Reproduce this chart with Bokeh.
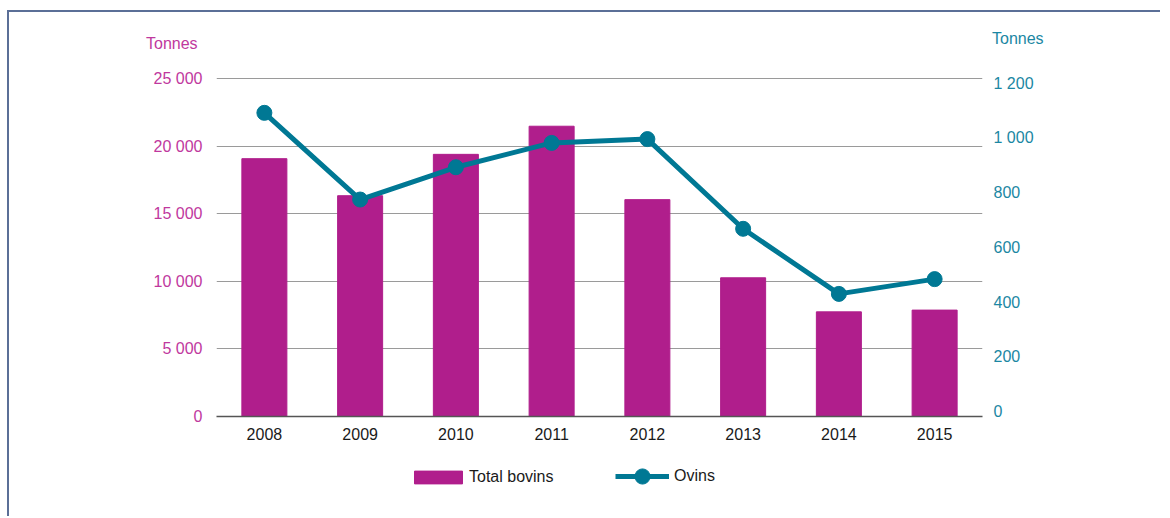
from bokeh.plotting import figure
from bokeh.models import (Range1d, FactorRange, LinearAxis, FixedTicker, Div,
                          Legend, LegendItem, ColumnDataSource)
from bokeh.layouts import column, row
from bokeh.embed import file_html
from bokeh.resources import INLINE

years = ["2008", "2009", "2010", "2011", "2012", "2013", "2014", "2015"]
bovins = [19070, 16330, 19390, 21470, 16040, 10260, 7740, 7870]
ovins = [1092, 775, 893, 982, 996, 668, 430, 484]

left_ticks = [0, 5000, 10000, 15000, 20000, 25000]
left_labels = ["0", "5 000", "10 000", "15 000", "20 000", "25 000"]
right_ticks = [0, 200, 400, 600, 800, 1000, 1200]
right_labels = ["0", "200", "400", "600", "800", "1 000", "1 200"]
unit_label = "Tonnes"
series_names = ["Total bovins", "Ovins"]

BAR = "#b01e8c"
LINE = "#007894"
LEFT_TXT = "#c0389e"
RIGHT_TXT = "#1b87a3"
FRAME = "#5b6f97"
FONT = "Liberation Sans"

src = ColumnDataSource(dict(year=years, bovins=bovins, ovins=ovins))
xr = FactorRange(*years, range_padding=0)

p = figure(width=1160, height=395, x_range=xr,
           y_range=Range1d(0, 25074), output_backend="svg", toolbar_location=None,
           min_border_left=216, min_border_right=178, min_border_top=24,
           min_border_bottom=32)
p.extra_y_ranges = {"right": Range1d(-18.3, 1221.2)}
p.outline_line_color = None
p.background_fill_color = "white"
p.border_fill_color = None

bars = p.vbar(x="year", top="bovins", width=0.47, source=src, color=BAR)
ln = p.line(x="year", y="ovins", source=src, y_range_name="right",
            line_color=LINE, line_width=5)
pts = p.scatter(x="year", y="ovins", source=src, y_range_name="right",
                size=15, fill_color=LINE, line_color=LINE)

# grid
p.xgrid.grid_line_color = None
p.ygrid.grid_line_color = "#9a9a9a"
p.ygrid.grid_line_width = 1
p.ygrid.ticker = FixedTicker(ticks=left_ticks)

# left axis
ya = p.yaxis[0]
ya.ticker = FixedTicker(ticks=left_ticks)
ya.major_label_overrides = dict(zip(left_ticks, left_labels))
ya.axis_line_color = None
ya.major_tick_line_color = None
ya.minor_tick_line_color = None
ya.major_tick_out = 0
ya.major_tick_in = 0
ya.major_label_standoff = 14
ya.major_label_text_font = FONT
ya.major_label_text_font_size = "16px"
ya.major_label_text_color = LEFT_TXT

# right axis
ra = LinearAxis(y_range_name="right", ticker=FixedTicker(ticks=right_ticks))
ra.major_label_overrides = dict(zip(right_ticks, right_labels))
ra.axis_line_color = None
ra.major_tick_line_color = None
ra.minor_tick_line_color = None
ra.major_tick_out = 0
ra.major_tick_in = 0
ra.major_label_standoff = 11
ra.major_label_text_font = FONT
ra.major_label_text_font_size = "16px"
ra.major_label_text_color = RIGHT_TXT
p.add_layout(ra, "right")

# x axis
xa = p.xaxis[0]
xa.axis_line_color = "#555555"
xa.axis_line_width = 1.5
xa.major_tick_line_color = None
xa.major_tick_out = 0
xa.major_tick_in = 0
xa.major_label_standoff = 11
xa.major_label_text_font = FONT
xa.major_label_text_font_size = "16px"
xa.major_label_text_color = "#1a1a1a"

# legend strip: a small figure whose frame holds the legends; its key
# renderers are hidden (legend keys are still drawn)
lg = figure(width=1160, height=68, x_range=xr, y_range=Range1d(0, 25074),
            output_backend="svg", toolbar_location=None,
            x_axis_location=None, y_axis_location=None, min_border=0)
lg.outline_line_color = None
lg.background_fill_color = None
lg.border_fill_color = None
lg.xgrid.visible = False
lg.ygrid.visible = False
k_bar = lg.vbar(x="year", top="bovins", width=0.47, source=src, color=BAR,
                visible=False)
k_line = lg.line(x="year", y="ovins", source=src, line_color=LINE, line_width=5,
                 visible=False)
k_pts = lg.scatter(x="year", y="ovins", source=src, size=15,
                   fill_color=LINE, line_color=LINE, visible=False)

common = dict(orientation="horizontal", padding=0, margin=0,
              border_line_color=None, background_fill_alpha=0,
              label_text_font=FONT, label_text_font_size="16px",
              label_text_color="#1a1a1a", click_policy="none")
legend_bar = Legend(items=[LegendItem(label=series_names[0], renderers=[k_bar])],
                    location=(192, 30), glyph_width=60, glyph_height=16,
                    label_standoff=1, **common)
legend_line = Legend(items=[LegendItem(label=series_names[1], renderers=[k_line, k_pts])],
                     location=(399, 21), glyph_width=54, glyph_height=38,
                     label_standoff=5, **common)
lg.add_layout(legend_bar, "center")
lg.add_layout(legend_line, "center")

# unit labels above each value axis
unit_style = {"font-family": FONT, "font-size": "16px"}
left_unit = Div(text=unit_label, width=60, height=20, margin=(33, 0, 0, 146),
                styles=dict(unit_style, color=LEFT_TXT))
right_unit = Div(text=unit_label, width=60, height=20, margin=(28, 0, 0, 786),
                 styles=dict(unit_style, color=RIGHT_TXT))

layout = column(row(left_unit, right_unit), p, lg,
                styles={"background-image": f"linear-gradient({FRAME},{FRAME}), linear-gradient({FRAME},{FRAME})",
                        "background-size": "2px 100%, 100% 2px",
                        "background-position": "7px 10px, 7px 10px",
                        "background-repeat": "no-repeat"})

open("out.html", "w").write(file_html(layout, INLINE))
